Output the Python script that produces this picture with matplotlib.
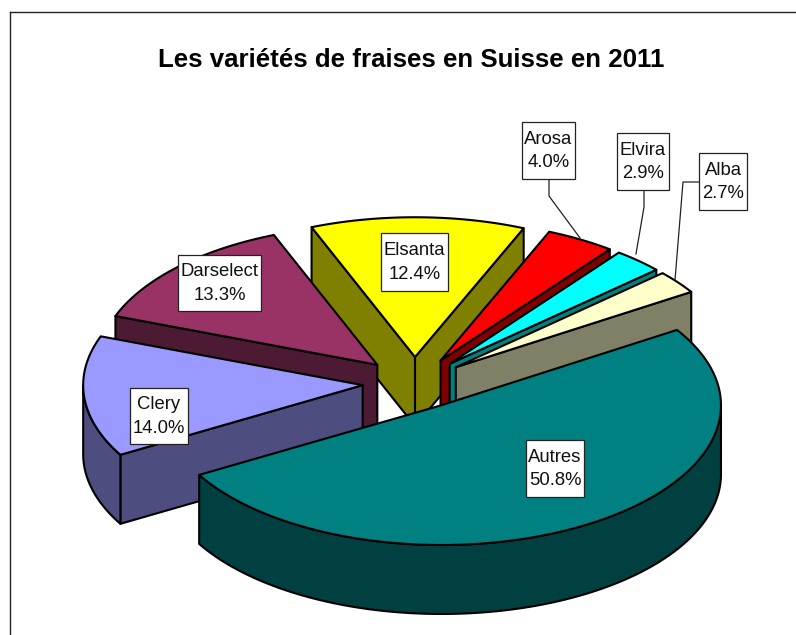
import numpy as np
import matplotlib
matplotlib.use("Agg")
import matplotlib.pyplot as plt
from matplotlib.patches import Polygon, Rectangle

names = ["Autres", "Clery", "Darselect", "Elsanta", "Arosa", "Elvira", "Alba"]
values = [50.8, 14.0, 13.3, 12.4, 4.0, 2.9, 2.7]
top_colors = ["#008080", "#9999FF", "#993366", "#FFFF00", "#FF0000", "#00FFFF", "#FFFFCC"]
side_colors = ["#004040", "#4D4D80", "#4D1A33", "#808000", "#800000", "#008080", "#808066"]
title = "Les variétés de fraises en Suisse en 2011"

CX, CY = 414.5, 383
R, K = 279.5, 0.5
EXPLODE = 52
DEPTH = 69
START = 32.6
LW = 1.5
order = ["Elsanta", "Arosa", "Elvira", "Alba", "Darselect", "Clery", "Autres"]
label_box = {"Autres": (526, 440, 584, 497), "Clery": (130, 388, 188, 444),
             "Darselect": (178, 255, 261, 311), "Elsanta": (381, 233, 448, 291),
             "Arosa": (522, 122, 575, 179), "Elvira": (617, 133, 669, 190),
             "Alba": (699, 153, 747, 210)}
leaders = {"Arosa": [(549, 179), (549, 196), (580, 238)],
           "Elvira": [(644, 190), (644, 207), (636, 254)],
           "Alba": [(699, 182), (683, 182), (675, 280)]}

fig = plt.figure(figsize=(7.96, 6.35), dpi=100, facecolor="white")
ax = fig.add_axes([0, 0, 1, 1])
ax.set_xlim(0, 796)
ax.set_ylim(635, 0)
ax.axis("off")
ax.plot([9.5, 796], [11.5, 11.5], color="#222222", lw=1.0, zorder=1)
ax.plot([9.5, 9.5], [11.5, 635], color="#222222", lw=1.0, zorder=1)


def pt(c, theta, r=R):
    t = np.radians(theta)
    return np.column_stack((c[0] + r * np.cos(t), c[1] - r * K * np.sin(t)))


spans = np.array(values) / sum(values) * 360
ends = START - np.concatenate(([0], np.cumsum(spans)[:-1]))
z = 2
for name in order:
    i = names.index(name)
    a0, a1 = ends[i], ends[i] - spans[i]
    mid = np.radians((a0 + a1) / 2)
    c = (CX + EXPLODE * np.cos(mid), CY - EXPLODE * K * np.sin(mid))
    thetas = np.linspace(a0, a1, 200)
    arc = pt(c, thetas)
    tip = np.array([c])
    drop = np.array([0, DEPTH])

    def face(points):
        poly = np.vstack((points, (points + drop)[::-1]))
        ax.add_patch(Polygon(poly, closed=True, fc=side_colors[i], ec="black",
                             lw=LW, joinstyle="round", zorder=z))

    # only the walls that face the viewer
    if np.cos(np.radians(a0)) < 0:
        face(np.vstack((tip, arc[:1])))
    if np.cos(np.radians(a1)) > 0:
        face(np.vstack((tip, arc[-1:])))
    front = arc[np.sin(np.radians(thetas)) <= 0]
    if len(front) > 1:
        face(front)
    ax.add_patch(Polygon(np.vstack((tip, arc)), closed=True, fc=top_colors[i], ec="black",
                         lw=LW, joinstyle="round", zorder=z))
    z += 1

for name, pts in leaders.items():
    xs, ys = zip(*pts)
    ax.plot(xs, ys, color="#222222", lw=0.9, zorder=20)

for name, v in zip(names, values):
    x0, y0, x1, y1 = label_box[name]
    ax.add_patch(Rectangle((x0, y0), x1 - x0, y1 - y0, fc="white", ec="#222222", lw=0.9, zorder=25))
    ax.text((x0 + x1) / 2, (y0 + y1) / 2 + 0.5, f"{name}\n{v:.1f}%", ha="center", va="center",
            ma="center", family="Liberation Sans", fontsize=13.3, linespacing=1.5,
            color="#111111", zorder=30)

ax.text(411, 60, title, ha="center", va="center", family="Liberation Sans",
        fontweight="bold", fontsize=18.6, color="black", zorder=30)
fig.savefig("out.png", dpi=100)
